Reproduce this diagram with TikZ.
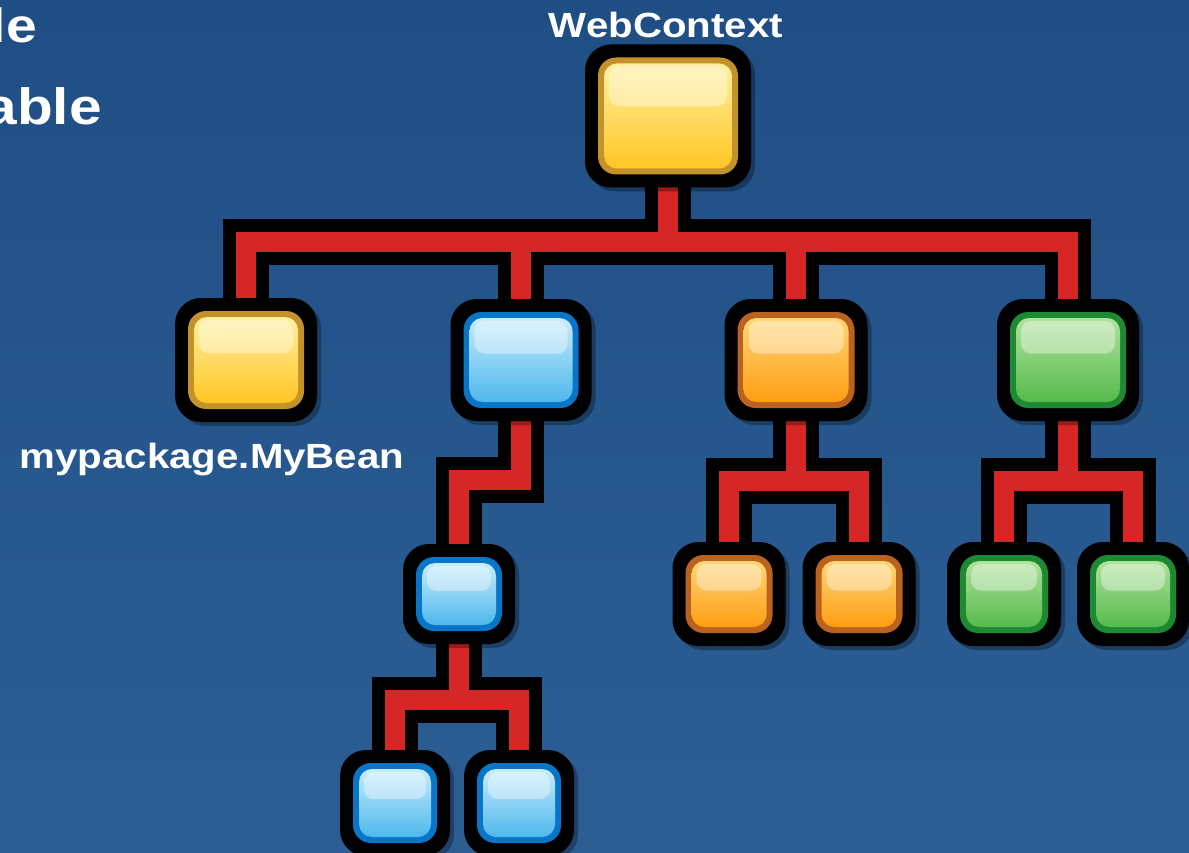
\documentclass[tikz,border=0pt]{standalone}
\usepackage{fontspec}
\newfontfamily\labfont{Liberation Sans}[FakeStretch=1.15]
\usetikzlibrary{calc}
\pgfdeclarelayer{back}
\pgfdeclarelayer{bg}
\pgfsetlayers{back,bg,main}
\definecolor{bgtop}{RGB}{31,78,133}
\definecolor{bgbot}{RGB}{44,94,148}
\definecolor{redline}{RGB}{214,38,38}
\definecolor{pYe}{RGB}{196,146,42}
\definecolor{pYt}{RGB}{255,240,160}
\definecolor{pYb}{RGB}{255,198,36}
\definecolor{pBe}{RGB}{8,118,200}
\definecolor{pBt}{RGB}{200,236,252}
\definecolor{pBb}{RGB}{78,184,236}
\definecolor{pOe}{RGB}{186,98,30}
\definecolor{pOt}{RGB}{255,214,120}
\definecolor{pOb}{RGB}{255,158,18}
\definecolor{pGe}{RGB}{28,138,48}
\definecolor{pGt}{RGB}{176,226,156}
\definecolor{pGb}{RGB}{86,186,76}
\tikzset{
  outerbox/.style={fill=black, rounded corners=26pt, inner sep=0pt, outer sep=0pt},
  shadowbox/.style={fill=black, fill opacity=0.3, rounded corners=26pt, inner sep=0pt},
  edgebox/.style={rounded corners=18pt, inner sep=0pt},
  innerbox/.style={rounded corners=13pt, inner sep=0pt},
  glossbox/.style={fill=white, fill opacity=0.38, rounded corners=10pt, inner sep=0pt},
  conout/.style={draw=black, line width=46pt, line join=miter},
  conin/.style={draw=redline, line width=20pt, line join=miter},
  lbl/.style={text=white, font=\labfont\bfseries\fontsize{35}{40}\selectfont, inner sep=0pt},
  biglbl/.style={text=white, font=\labfont\bfseries\fontsize{48}{54}\selectfont, inner sep=0pt},
}
\newcommand\tbox[6]{%
  \node[shadowbox, minimum width={#4pt+26pt}, minimum height={#5pt+26pt}] (#1s) at ($(#2,#3)+(4,4)$) {};
  \node[outerbox, minimum width={#4pt+26pt}, minimum height={#5pt+26pt}] (#1) at (#2,#3) {};
  \node[edgebox, fill=#6e, minimum width={#4pt}, minimum height={#5pt}] (#1e) at (#1) {};
  \node[innerbox, top color=#6t, bottom color=#6b, minimum width={#4pt-12pt}, minimum height={#5pt-12pt}] (#1i) at (#1) {};
  \node[glossbox, anchor=north, minimum width={#4pt-22pt}, minimum height={0.34*#5pt}] (#1g) at ([yshift=-3pt]#1i.north) {};
}
\newcommand\conns[1]{%
  \draw[#1] (root.center) -- (j0);
  \draw[#1] (yel.center) |- (j0) -| (grn.center);
  \draw[#1] (j0) -| (blu.center);
  \draw[#1] (j0) -| (orn.center);
  \draw[#1] (blu.center) -- (jb) -| (sb.center);
  \draw[#1] (sb.center) -- (jb2);
  \draw[#1] (bb1.center) |- (jb2) -| (bb2.center);
  \draw[#1] (orn.center) -- (jo);
  \draw[#1] (so1.center) |- (jo) -| (so2.center);
  \draw[#1] (grn.center) -- (jg);
  \draw[#1] (sg1.center) |- (jg) -| (sg2.center);
}
\begin{document}
\begin{tikzpicture}[x=1pt,y=-1pt]
\useasboundingbox (0,0) rectangle (1189,853);
\begin{pgfonlayer}{back}
  \shade[top color=bgtop, bottom color=bgbot] (0,0) rectangle (1189,853);
\end{pgfonlayer}

% text
\node[biglbl, anchor=base east] (t1) at (37,43) {le};
\node[biglbl, font=\labfont\bfseries\fontsize{51}{56}\selectfont, anchor=base east] (t2) at (102,125) {able};
\node[lbl, anchor=base] (wc) at (666,38) {WebContext};
\node[lbl, anchor=base] (mb) at (212,468) {mypackage.MyBean};

% boxes
\tbox{root}{668}{116}{140}{117}{pY}
\tbox{yel}{246}{360}{116}{98}{pY}
\tbox{blu}{521}{360}{115}{96}{pB}
\tbox{orn}{796}{360}{117}{96}{pO}
\tbox{grn}{1068}{360}{116}{96}{pG}
\tbox{sb}{459}{594}{86}{74}{pB}
\tbox{bb1}{395}{803}{84}{80}{pB}
\tbox{bb2}{519}{803}{84}{80}{pB}
\tbox{so1}{729}{594}{87}{78}{pO}
\tbox{so2}{859}{594}{87}{78}{pO}
\tbox{sg1}{1004}{594}{88}{78}{pG}
\tbox{sg2}{1133}{594}{86}{78}{pG}

% junctions
\coordinate (j0) at (668,242);
\coordinate (jb) at (521,480);
\coordinate (jb2) at (459,700);
\coordinate (jo) at (796,481);
\coordinate (jg) at (1068,481);

\begin{pgfonlayer}{bg}
  \conns{conout}
  \conns{conin}
\end{pgfonlayer}
\end{tikzpicture}
\end{document}
